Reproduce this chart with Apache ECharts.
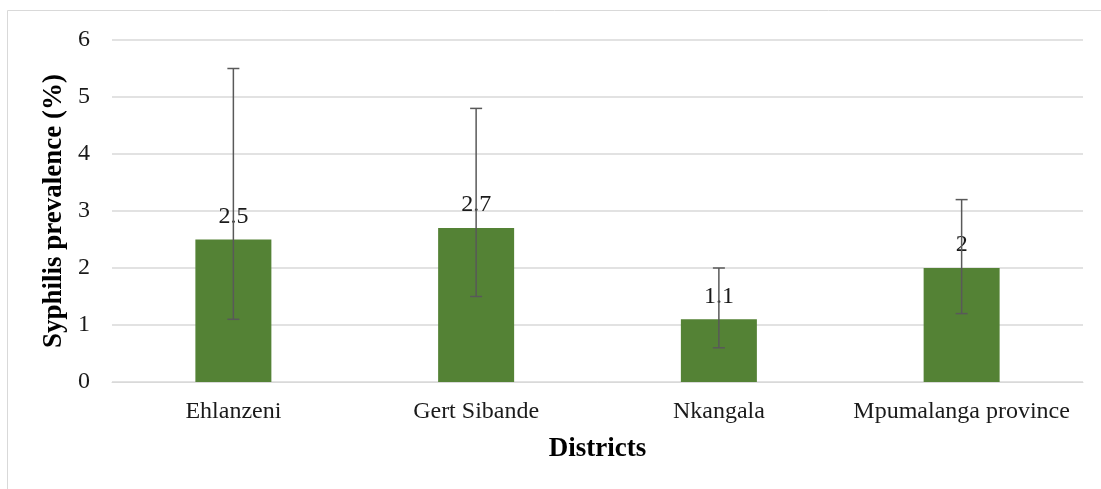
<!DOCTYPE html>
<html>
<head>
<meta charset="utf-8">
<script src="https://cdn.jsdelivr.net/npm/echarts@6/dist/echarts.min.js"></script>
<style>
  html, body { margin: 0; padding: 0; background: #fff; }
  #main { width: 1101px; height: 489px; }
</style>
</head>
<body>
<div id="main"></div>
<script>
// districts and prevalence with 95% CI
const districts = ['Ehlanzeni', 'Gert Sibande', 'Nkangala', 'Mpumalanga province']
const prevalence = [2.5, 2.7, 1.1, 2]
const ciLow = [1.1, 1.5, 0.6, 1.2]
const ciHigh = [5.5, 4.8, 2.0, 3.2]

const chart = echarts.init(document.getElementById('main'))

const errData = districts.map((d, i) => [i, ciLow[i], ciHigh[i]])

const option = {
  animation: false,
  textStyle: { fontFamily: 'Liberation Serif' },
  graphic: [{
    type: 'rect',
    shape: { x: 7.5, y: 10.5, width: 1200, height: 600 },
    style: { fill: 'none', stroke: '#d9d9d9', lineWidth: 1 },
    silent: true
  }],
  grid: { left: 112, right: 18, top: 40, bottom: 107 },
  xAxis: {
    type: 'category',
    data: districts,
    name: 'Districts',
    nameLocation: 'middle',
    nameGap: 54,
    nameTextStyle: { fontSize: 27, fontWeight: 'bold', color: '#000', fontFamily: 'Liberation Serif' },
    axisLine: { lineStyle: { color: '#d9d9d9', width: 1 } },
    axisTick: { show: false },
    axisLabel: { interval: 0, fontSize: 24, color: '#1a1a1a', margin: 18, fontFamily: 'Liberation Serif' }
  },
  yAxis: {
    type: 'value',
    min: 0,
    max: 6,
    interval: 1,
    name: 'Syphilis prevalence (%)',
    nameLocation: 'middle',
    nameGap: 40,
    nameTextStyle: { fontSize: 27, fontWeight: 'bold', color: '#000', fontFamily: 'Liberation Serif' },
    axisLine: { show: false },
    axisTick: { show: false },
    axisLabel: { fontSize: 24, color: '#1a1a1a', margin: 22, fontFamily: 'Liberation Serif' },
    splitLine: { lineStyle: { color: '#d9d9d9', width: 1.5 } }
  },
  series: [
    {
      type: 'bar',
      data: prevalence,
      barWidth: 76,
      itemStyle: { color: '#548235' },
      label: {
        show: true,
        position: 'top',
        distance: 11,
        fontSize: 24,
        color: '#1a1a1a',
        fontFamily: 'Liberation Serif'
      },
      z: 2
    },
    {
      type: 'custom',
      data: errData,
      z: 3,
      renderItem: function (params, api) {
        const x = api.value(0)
        const lo = api.coord([x, api.value(1)])
        const hi = api.coord([x, api.value(2)])
        const cap = 6
        const style = { stroke: '#595959', lineWidth: 1.5 }
        return {
          type: 'group',
          children: [
            { type: 'line', shape: { x1: lo[0], y1: lo[1], x2: hi[0], y2: hi[1] }, style: style },
            { type: 'line', shape: { x1: lo[0] - cap, y1: lo[1], x2: lo[0] + cap, y2: lo[1] }, style: style },
            { type: 'line', shape: { x1: hi[0] - cap, y1: hi[1], x2: hi[0] + cap, y2: hi[1] }, style: style }
          ]
        }
      }
    }
  ]
}

chart.setOption(option)
</script>
</body>
</html>
